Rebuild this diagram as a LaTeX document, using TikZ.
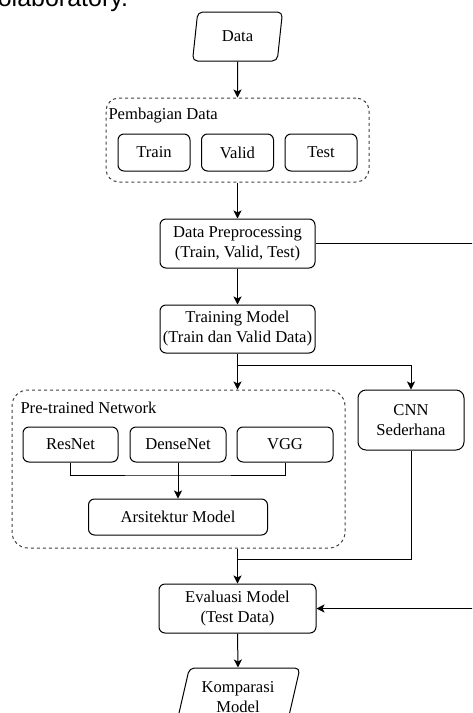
\documentclass[tikz,border=0pt]{standalone}
\usepackage{fontspec}
\setmainfont{Liberation Serif}
\newfontfamily\pagesans{Liberation Sans}
\usetikzlibrary{arrows.meta,shapes.geometric}
\def\diagfont{\fontsize{16.6}{20}\selectfont}

\tikzset{
  box/.style={draw, rounded corners=6pt, align=center, inner sep=1pt, font=\diagfont},
  group/.style={draw=black!75, dash pattern=on 3pt off 3pt, rounded corners=13pt},
  grouplabel/.style={anchor=west, inner sep=2pt, font=\diagfont},
  io/.style={trapezium, trapezium left angle=68, trapezium right angle=112,
    trapezium stretches body, draw, rounded corners=5pt, align=center,
    inner sep=1pt, font=\diagfont},
  flow/.style={-{Stealth[length=8pt,width=8pt,inset=2pt]}},
}

\begin{document}
\begin{tikzpicture}[x=1pt, y=-1pt, line width=1pt]
  \useasboundingbox (0,0) rectangle (472,713);
  \clip (0,0) rectangle (472,713);
  %%%%% page text above the chart %%%%%
  \node[anchor=base east, inner sep=0pt, font=\pagesans\fontsize{25}{30}\selectfont] (pagetext) at (128.5,6) {Colaboratory.};

  %%%%% input and split %%%%%
  \node[io, minimum width=90pt, minimum height=49pt] (data) at (237.5,36.5) {Data};

  \node[group, minimum width=263pt, minimum height=84pt] (split) at (237.5,140) {};
  \node[grouplabel] (splitlabel) at (106,116) {Pembagian Data};
  \node[box, minimum width=72pt, minimum height=37pt] (train) at (154,152.5) {Train};
  \node[box, minimum width=72pt, minimum height=37pt] (valid) at (237.5,152.5) {Valid};
  \node[box, minimum width=72pt, minimum height=37pt] (test) at (321,152.5) {Test};

  %%%%% preprocessing and training %%%%%
  \node[box, minimum width=155pt, minimum height=49pt] (prep) at (237.5,243.5) {Data Preprocessing\\(Train, Valid, Test)};
  \node[box, minimum width=155pt, minimum height=48pt] (fit) at (237.5,329) {Training Model\\(Train dan Valid Data)};

  %%%%% models %%%%%
  \node[group, minimum width=333pt, minimum height=158pt, rounded corners=16pt] (pretrained) at (178.5,469) {};
  \node[grouplabel] (pretrainedlabel) at (18,408) {Pre-trained Network};
  \node[box, minimum width=95pt, minimum height=35pt] (resnet) at (70.5,444.5) {ResNet};
  \node[box, minimum width=96pt, minimum height=35pt] (densenet) at (178,444.5) {DenseNet};
  \node[box, minimum width=96pt, minimum height=35pt] (vgg) at (285,444.5) {VGG};
  \node[box, minimum width=179pt, minimum height=36pt] (arsi) at (178,517) {Arsitektur Model};
  \node[box, minimum width=106pt, minimum height=60pt, rounded corners=8pt] (cnn) at (411,420) {CNN\\Sederhana};

  %%%%% evaluation %%%%%
  \node[box, minimum width=157pt, minimum height=49pt] (eval) at (237.5,608.5) {Evaluasi Model\\(Test Data)};
  \node[io, minimum width=124pt, minimum height=58pt] (compare) at (238,697) {Komparasi\\Model};

  %%%%% connectors %%%%%
  \coordinate (fork) at (237.5,365);
  \coordinate (merge) at (178,475);
  \coordinate (join) at (237.5,559);
  \coordinate (rim) at (480,0);

  \draw[flow] (data.south) -- (split.north);
  \draw[flow] (split.south) -- (prep.north);
  \draw[flow] (prep.south) -- (fit.north);
  \draw (fit.south) -- (fork);
  \draw[flow] (fork) -- (fork |- pretrained.north);
  \draw[flow] (fork) -| (cnn.north);
  \draw (resnet.south) |- (merge) -| (vgg.south);
  \draw[flow] (densenet.south) -- (arsi.north);
  \draw (cnn.south) |- (join);
  \draw[flow] (pretrained.south -| eval.north) -- (eval.north);
  \draw[flow] (prep.east) -- (prep.east -| rim) -- (eval.east -| rim) -- (eval.east);
  \draw[flow] (eval.south) -- (compare.north);
\end{tikzpicture}
\end{document}
